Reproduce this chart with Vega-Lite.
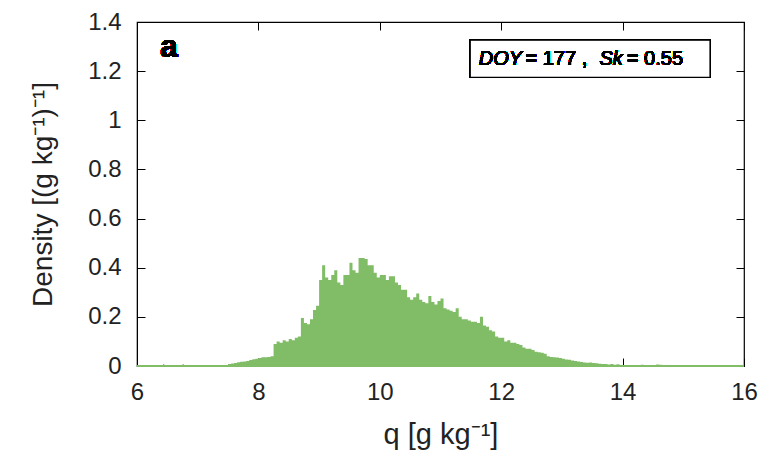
{
  "$schema": "https://vega.github.io/schema/vega-lite/v6.json",
  "width": 607,
  "height": 344,
  "autosize": {"type": "none"},
  "padding": {"left": 137, "top": 22, "right": 21, "bottom": 105},
  "background": "white",
  "config": {
    "view": {"stroke": "black", "strokeWidth": 1.2},
    "font": "Liberation Sans",
    "axis": {
      "labelFont": "Liberation Sans",
      "titleFont": "Liberation Sans",
      "labelFontSize": 24,
      "titleFontSize": 27,
      "titleFontWeight": "normal",
      "labelColor": "#222",
      "titleColor": "#222",
      "domainColor": "black",
      "tickColor": "black",
      "labelFlush": false,
      "grid": false
    }
  },
  "data": {
    "values": [
      {"q": 6.0, "d": 0}, {"q": 6.43, "d": 0.008}, {"q": 6.45, "d": 0}, {"q": 6.75, "d": 0.008}, {"q": 6.77, "d": 0},
      {"q": 7.45, "d": 0.004}, {"q": 7.5, "d": 0.008}, {"q": 7.55, "d": 0.01}, {"q": 7.6, "d": 0.012}, {"q": 7.65, "d": 0.015},
      {"q": 7.7, "d": 0.017}, {"q": 7.75, "d": 0.018}, {"q": 7.8, "d": 0.02}, {"q": 7.85, "d": 0.024}, {"q": 7.9, "d": 0.027},
      {"q": 7.95, "d": 0.03}, {"q": 8.0, "d": 0.033}, {"q": 8.05, "d": 0.036}, {"q": 8.1, "d": 0.036}, {"q": 8.15, "d": 0.037},
      {"q": 8.2, "d": 0.04}, {"q": 8.25, "d": 0.09}, {"q": 8.3, "d": 0.1}, {"q": 8.35, "d": 0.095}, {"q": 8.4, "d": 0.105},
      {"q": 8.45, "d": 0.1}, {"q": 8.5, "d": 0.11}, {"q": 8.55, "d": 0.105}, {"q": 8.6, "d": 0.115}, {"q": 8.65, "d": 0.12},
      {"q": 8.7, "d": 0.195}, {"q": 8.75, "d": 0.175}, {"q": 8.8, "d": 0.17}, {"q": 8.85, "d": 0.19}, {"q": 8.9, "d": 0.228},
      {"q": 8.95, "d": 0.245}, {"q": 9.0, "d": 0.35}, {"q": 9.05, "d": 0.41}, {"q": 9.1, "d": 0.36}, {"q": 9.15, "d": 0.35},
      {"q": 9.2, "d": 0.37}, {"q": 9.25, "d": 0.39}, {"q": 9.3, "d": 0.34}, {"q": 9.35, "d": 0.33}, {"q": 9.4, "d": 0.37},
      {"q": 9.45, "d": 0.37}, {"q": 9.5, "d": 0.42}, {"q": 9.55, "d": 0.39}, {"q": 9.6, "d": 0.38}, {"q": 9.65, "d": 0.44},
      {"q": 9.7, "d": 0.44}, {"q": 9.75, "d": 0.435}, {"q": 9.8, "d": 0.41}, {"q": 9.85, "d": 0.41}, {"q": 9.9, "d": 0.38},
      {"q": 9.95, "d": 0.36}, {"q": 10.0, "d": 0.37}, {"q": 10.05, "d": 0.37}, {"q": 10.1, "d": 0.35}, {"q": 10.15, "d": 0.365},
      {"q": 10.2, "d": 0.365}, {"q": 10.25, "d": 0.34}, {"q": 10.3, "d": 0.33}, {"q": 10.35, "d": 0.31}, {"q": 10.4, "d": 0.31},
      {"q": 10.45, "d": 0.28}, {"q": 10.5, "d": 0.27}, {"q": 10.55, "d": 0.28}, {"q": 10.6, "d": 0.295}, {"q": 10.65, "d": 0.27},
      {"q": 10.7, "d": 0.26}, {"q": 10.75, "d": 0.255}, {"q": 10.8, "d": 0.285}, {"q": 10.85, "d": 0.26}, {"q": 10.9, "d": 0.25},
      {"q": 10.95, "d": 0.265}, {"q": 11.0, "d": 0.275}, {"q": 11.05, "d": 0.235}, {"q": 11.1, "d": 0.23}, {"q": 11.15, "d": 0.225},
      {"q": 11.2, "d": 0.22}, {"q": 11.25, "d": 0.235}, {"q": 11.3, "d": 0.2}, {"q": 11.35, "d": 0.19}, {"q": 11.4, "d": 0.19},
      {"q": 11.45, "d": 0.185}, {"q": 11.5, "d": 0.18}, {"q": 11.55, "d": 0.18}, {"q": 11.6, "d": 0.175}, {"q": 11.65, "d": 0.2},
      {"q": 11.7, "d": 0.165}, {"q": 11.75, "d": 0.16}, {"q": 11.8, "d": 0.145}, {"q": 11.85, "d": 0.14}, {"q": 11.9, "d": 0.12},
      {"q": 11.95, "d": 0.115}, {"q": 12.0, "d": 0.115}, {"q": 12.05, "d": 0.1}, {"q": 12.1, "d": 0.105}, {"q": 12.15, "d": 0.095},
      {"q": 12.2, "d": 0.095}, {"q": 12.25, "d": 0.09}, {"q": 12.3, "d": 0.085}, {"q": 12.35, "d": 0.075}, {"q": 12.4, "d": 0.07},
      {"q": 12.45, "d": 0.07}, {"q": 12.5, "d": 0.065}, {"q": 12.55, "d": 0.058}, {"q": 12.6, "d": 0.056}, {"q": 12.65, "d": 0.054},
      {"q": 12.7, "d": 0.05}, {"q": 12.75, "d": 0.04}, {"q": 12.8, "d": 0.037}, {"q": 12.85, "d": 0.036}, {"q": 12.9, "d": 0.035},
      {"q": 12.95, "d": 0.033}, {"q": 13.0, "d": 0.03}, {"q": 13.05, "d": 0.026}, {"q": 13.1, "d": 0.025}, {"q": 13.15, "d": 0.022},
      {"q": 13.2, "d": 0.02}, {"q": 13.25, "d": 0.018}, {"q": 13.3, "d": 0.016}, {"q": 13.35, "d": 0.014}, {"q": 13.4, "d": 0.013},
      {"q": 13.45, "d": 0.014}, {"q": 13.5, "d": 0.012}, {"q": 13.55, "d": 0.011}, {"q": 13.6, "d": 0.009}, {"q": 13.65, "d": 0.008},
      {"q": 13.7, "d": 0.008}, {"q": 13.75, "d": 0.006}, {"q": 13.8, "d": 0.008}, {"q": 13.85, "d": 0.005}, {"q": 13.9, "d": 0.007},
      {"q": 13.95, "d": 0.004}, {"q": 14.0, "d": 0.004}, {"q": 14.05, "d": 0.003}, {"q": 14.1, "d": 0.002}, {"q": 14.15, "d": 0.003},
      {"q": 14.2, "d": 0.002}, {"q": 14.25, "d": 0.001}, {"q": 14.3, "d": 0.005}, {"q": 14.35, "d": 0.001}, {"q": 14.4, "d": 0.001},
      {"q": 14.45, "d": 0}, {"q": 14.55, "d": 0.006}, {"q": 14.6, "d": 0.005}, {"q": 14.65, "d": 0}, {"q": 16.0, "d": 0}
    ]
  },
  "layer": [
    {
      "mark": {"type": "area", "interpolate": "step-after", "color": "#80bd66"},
      "encoding": {
        "x": {
          "field": "q", "type": "quantitative",
          "scale": {"domain": [6, 16], "nice": false, "zero": false},
          "axis": {"orient": "bottom", "values": [6, 8, 10, 12, 14, 16], "format": "d", "tickSize": -8, "labelPadding": 22, "title": "q [g kg⁻¹]", "titleFontSize": 29, "titlePadding": 16}
        },
        "y": {
          "field": "d", "type": "quantitative",
          "scale": {"domain": [0, 1.4], "nice": false},
          "axis": {"orient": "left", "values": [0, 0.2, 0.4, 0.6, 0.8, 1, 1.2, 1.4], "format": "~g", "tickSize": -8, "labelPadding": 24, "title": "Density [(g kg⁻¹)⁻¹]", "titleFontSize": 28, "titlePadding": 30}
        }
      }
    },
    {
      "mark": {"type": "rule", "color": "#80bd66", "strokeWidth": 2},
      "encoding": {"y": {"datum": 0, "axis": null}}
    },
    {
      "mark": {"type": "text", "font": "Liberation Sans", "fontWeight": "bold", "fontSize": 32, "align": "left", "baseline": "alphabetic", "color": "black"},
      "encoding": {
        "x": {"datum": 6.38, "axis": {"orient": "top", "values": [6, 8, 10, 12, 14, 16], "labels": false, "domain": false, "tickSize": -8, "title": null}},
        "y": {"datum": 1.257, "axis": {"orient": "right", "values": [0, 0.2, 0.4, 0.6, 0.8, 1, 1.2, 1.4], "labels": false, "domain": false, "tickSize": -8, "title": null}},
        "text": {"value": "a"}
      }
    },
    {
      "mark": {"type": "rect", "fill": "white", "stroke": "black", "strokeWidth": 1.2},
      "encoding": {
        "x": {"datum": 11.49, "axis": null}, "x2": {"datum": 15.44},
        "y": {"datum": 1.326, "axis": null}, "y2": {"datum": 1.175}
      }
    },
    {
      "mark": {"type": "text", "font": "Liberation Sans", "fontStyle": "italic", "fontSize": 20, "align": "left", "baseline": "middle", "color": "black"},
      "encoding": {"x": {"datum": 11.63, "axis": null}, "y": {"datum": 1.25, "axis": null}, "text": {"value": "DOY"}}
    },
    {
      "mark": {"type": "text", "font": "Liberation Sans", "fontSize": 20, "align": "left", "baseline": "middle", "color": "black"},
      "encoding": {"x": {"datum": 12.4, "axis": null}, "y": {"datum": 1.25, "axis": null}, "text": {"value": "= 177 ,"}}
    },
    {
      "mark": {"type": "text", "font": "Liberation Sans", "fontStyle": "italic", "fontSize": 20, "align": "left", "baseline": "middle", "color": "black"},
      "encoding": {"x": {"datum": 13.62, "axis": null}, "y": {"datum": 1.25, "axis": null}, "text": {"value": "Sk"}}
    },
    {
      "mark": {"type": "text", "font": "Liberation Sans", "fontSize": 20, "align": "left", "baseline": "middle", "color": "black"},
      "encoding": {"x": {"datum": 14.07, "axis": null}, "y": {"datum": 1.25, "axis": null}, "text": {"value": "= 0.55"}}
    }
  ],
  "resolve": {"axis": {"x": "independent", "y": "independent"}}
}
